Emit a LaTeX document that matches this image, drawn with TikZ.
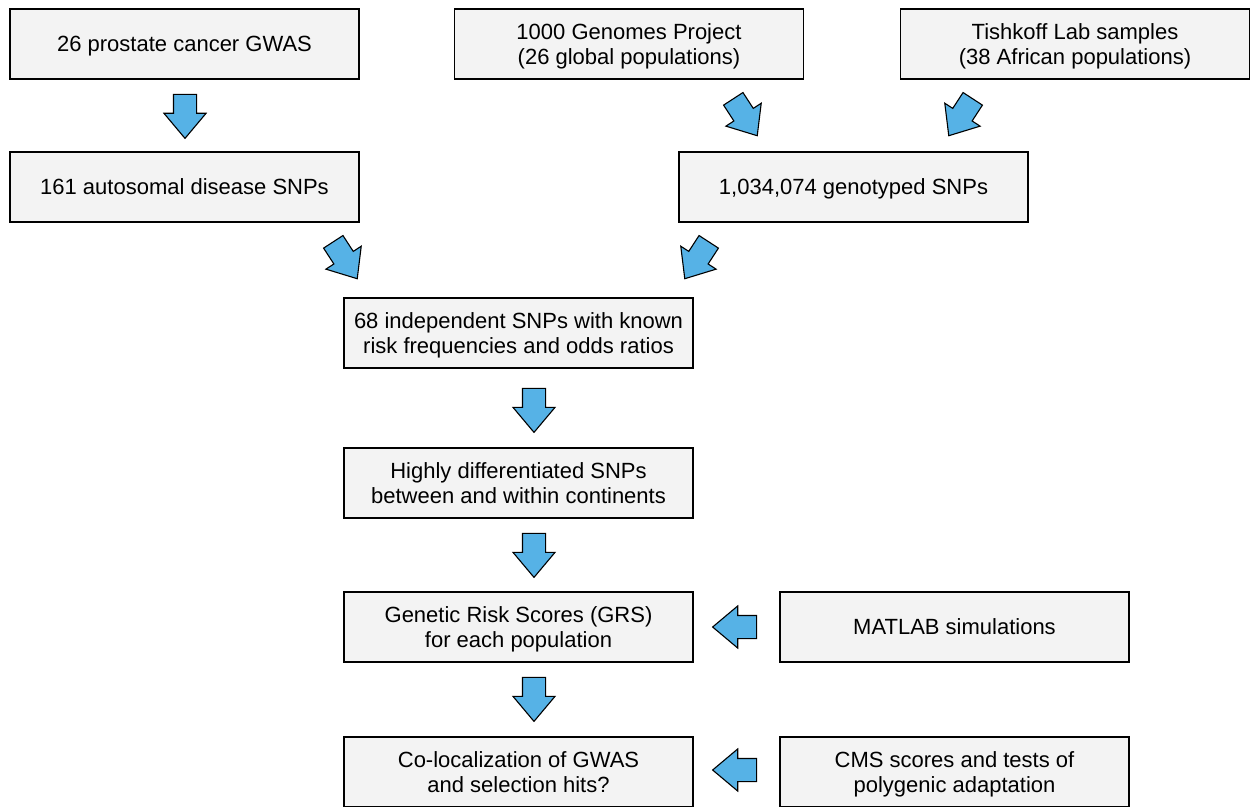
\documentclass[tikz,border=0pt]{standalone}
\usepackage{fontspec}
\setmainfont{Liberation Sans}
\usetikzlibrary{shapes.arrows, positioning}
\definecolor{boxGray}{RGB}{243,243,243}
\definecolor{arrowBlue}{RGB}{86,178,230}
\tikzstyle{stepBox}=[draw=black, fill=boxGray, line width=1.5pt,
  minimum width=349pt, minimum height=70pt, inner sep=0pt, align=center,
  font=\fontsize{22}{25.5}\selectfont, text depth=-1.4pt]
\tikzstyle{blockArrow}=[single arrow, draw=black, fill=arrowBlue,
  line width=1.1pt, minimum height=44pt, inner xsep=0pt, inner ysep=11pt,
  single arrow head extend=9.5pt, single arrow head indent=0pt,
  single arrow tip angle=80]

\begin{document}
\begin{tikzpicture}[x=1pt, y=-1pt]
  \useasboundingbox (0,0) rectangle (1250,806);

  % input data
  \node[stepBox] (gwas) at (184.5,44) {26 prostate cancer GWAS};
  \node[stepBox] (kgp) at (629,44) {1000 Genomes Project\\(26 global populations)};
  \node[stepBox] (tishkoff) at (1075,44) {Tishkoff Lab samples\\(38 African populations)};
  \node[stepBox] (diseaseSnps) at (184.5,187) {161 autosomal disease SNPs};
  \node[stepBox] (genoSnps) at (853.5,187) {1,034,074 genotyped SNPs};

  % main pipeline
  \node[stepBox] (indepSnps) at (518.5,333) {68 independent SNPs with known\\risk frequencies and odds ratios};
  \node[stepBox] (diffSnps) at (518.5,483) {Highly differentiated SNPs\\between and within continents};
  \node[stepBox] (grs) at (518.5,627) {Genetic Risk Scores (GRS)\\for each population};
  \node[stepBox] (coloc) at (518.5,772) {Co-localization of GWAS\\and selection hits?};
  \node[stepBox] (matlab) at (954.5,627) {MATLAB simulations};
  \node[stepBox] (cms) at (954.5,772) {CMS scores and tests of\\polygenic adaptation};

  % block arrows
  \node[blockArrow, rotate=-90] (aGwas) at (185,109.5) {};
  \node[blockArrow, rotate=-57] (aKgp) at (741.5,111.5) {};
  \node[blockArrow, rotate=-123] (aTishkoff) at (964.5,111.5) {};
  \node[blockArrow, rotate=-57] (aDisease) at (341.5,254.5) {};
  \node[blockArrow, rotate=-123] (aGeno) at (700.5,254.5) {};
  \node[blockArrow, rotate=-90] (aIndep) at (534,403.5) {};
  \node[blockArrow, rotate=-90] (aDiff) at (534,548.5) {};
  \node[blockArrow, rotate=-90] (aGrs) at (534,692.5) {};
  \node[blockArrow, rotate=180] (aMatlab) at (741.5,627) {};
  \node[blockArrow, rotate=180] (aCms) at (741.5,770) {};
\end{tikzpicture}
\end{document}
